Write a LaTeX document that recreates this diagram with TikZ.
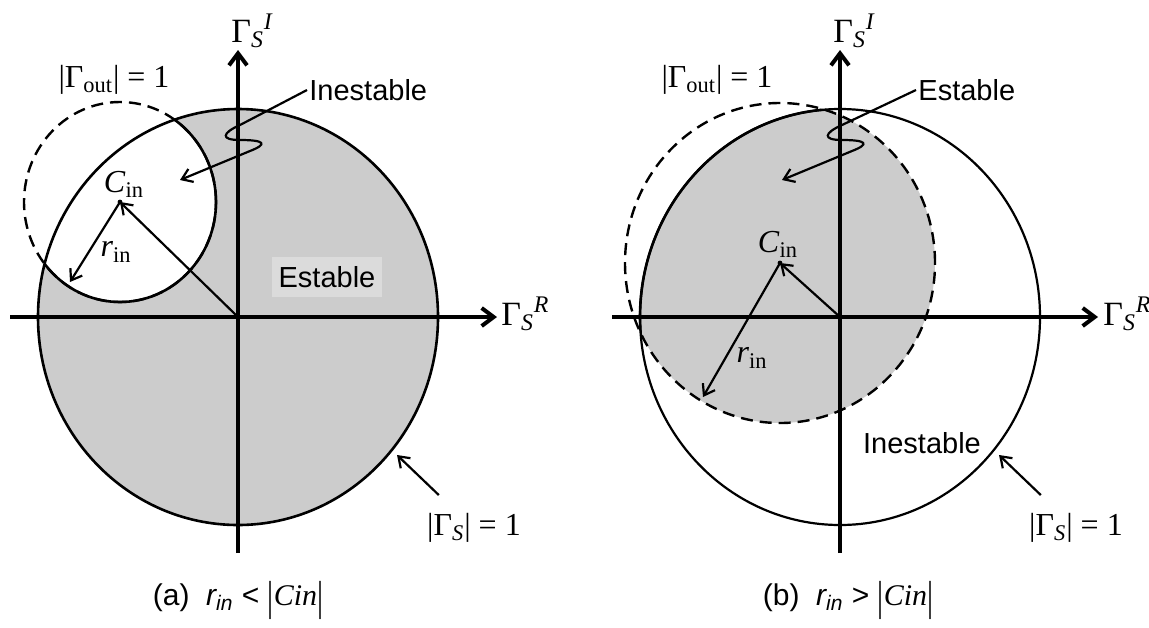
\documentclass[tikz,border=0pt]{standalone}
\usepackage{fontspec}
\setmainfont{Liberation Sans}
\newfontfamily\timesfont{Liberation Serif}
\usetikzlibrary{arrows.meta}
\definecolor{regiongray}{gray}{0.80}
\definecolor{boxgray}{gray}{0.86}
\newcommand{\tallbar}{\raisebox{-2.5pt}{\scalebox{1}[1.4]{|}}}

\begin{document}
\begin{tikzpicture}[x=0.5pt, y=-0.5pt,
    axis/.style={line width=2pt, -{Straight Barb[length=6pt,width=9pt]}},
    unit/.style={line width=1.3pt},
    stab/.style={line width=1.2pt, dash pattern=on 6pt off 3.5pt},
    pointer/.style={line width=1.1pt, -{Straight Barb[length=5pt,width=7pt]}},
    word/.style={font=\fontsize{14.5}{16}\selectfont, inner sep=1pt},
    sym/.style={font=\fontsize{16}{18}\selectfont\timesfont, inner sep=1pt},
    axlabel/.style={font=\fontsize{17}{19}\selectfont\timesfont, inner sep=0pt, anchor=base west},
    caption/.style={font=\fontsize{15}{17}\selectfont, inner sep=1pt}]
\useasboundingbox (0,0) rectangle (1149,627);

% (a) r_in < |Cin|
\coordinate (Oa) at (238,317);
\coordinate (Ca) at (120,202);
\fill[regiongray] (Oa) ellipse [x radius=100pt, y radius=104pt];
\begin{scope}
  \clip (Oa) ellipse [x radius=100pt, y radius=104pt];
  \fill[white] (Ca) ellipse [x radius=48pt, y radius=50pt];
  \draw[unit] (Ca) ellipse [x radius=48pt, y radius=50pt];
\end{scope}
\draw[stab] (Ca) ellipse [x radius=48pt, y radius=50pt];
\draw[unit] (Oa) ellipse [x radius=100pt, y radius=104pt];
\node[word, fill=boxgray, minimum width=55pt, minimum height=20pt] (estA) at (327,277) {Estable};

\draw[axis] (10,317) -- (497,317);
\draw[axis] (238,553) -- (238,50);
\node[axlabel] (gRa) at (501,325) {Γ\textsubscript{\textit{S}}\textsuperscript{\textit{R}}};
\node[axlabel] (gIa) at (231,42) {Γ\textsubscript{\textit{S}}\textsuperscript{\textit{I}}};

\draw[pointer] (Oa) -- (Ca);
\draw[pointer] (Ca) -- (70,282);
\fill (Ca) circle (1.2pt);
\node[sym] (cinA) at (124,184) {\textit{C}\textsubscript{in}};
\node[sym] (rinA) at (116,252) {\textit{r}\textsubscript{in}};
\node[sym] (goutA) at (114,80) {|Γ\textsubscript{out}| = 1};

\node[word, anchor=west] (instA) at (307,90) {Inestable};
\draw[pointer] (instA.west) -- (240,125) .. controls (222,133) and (220,140) .. (240,140)
    .. controls (265,140) and (268,144) .. (250,151) -- (180,180);

\node[sym] (gsA) at (474,528) {|Γ\textsubscript{\textit{S}}| = 1};
\draw[pointer] ([xshift=7pt,yshift=8pt]gsA.north west) -- (397,455);

\node[caption] (capA) at (238,600) {(a)\ \ \textit{r\textsubscript{in}} < {\timesfont\tallbar\textit{Cin}\tallbar}};

% (b) r_in > |Cin|
\coordinate (Ob) at (840,317);
\coordinate (Cb) at (780,263);
\begin{scope}
  \clip (Ob) ellipse [x radius=100pt, y radius=104pt];
  \fill[regiongray] (Cb) ellipse [x radius=77.5pt, y radius=80pt];
\end{scope}
\draw[line width=1.1pt] (Ob) ellipse [x radius=100pt, y radius=104pt];
\begin{scope}
  \clip (Cb) ellipse [x radius=77.5pt, y radius=80pt];
  \draw[unit] (Ob) ellipse [x radius=100pt, y radius=104pt];
\end{scope}
\draw[stab] (Cb) ellipse [x radius=77.5pt, y radius=80pt];

\draw[axis] (612,317) -- (1098,317);
\draw[axis] (840,553) -- (840,50);
\node[axlabel] (gRb) at (1103,325) {Γ\textsubscript{\textit{S}}\textsuperscript{\textit{R}}};
\node[axlabel] (gIb) at (833,42) {Γ\textsubscript{\textit{S}}\textsuperscript{\textit{I}}};

\draw[pointer] (Ob) -- (Cb);
\draw[pointer] (Cb) -- (703,397);
\fill (Cb) circle (1.2pt);
\node[sym] (cinB) at (778,244) {\textit{C}\textsubscript{in}};
\node[sym] (rinB) at (752,358) {\textit{r}\textsubscript{in}};
\node[sym] (goutB) at (717,80) {|Γ\textsubscript{out}| = 1};

\node[word, anchor=west] (estB) at (916,90) {Estable};
\draw[pointer] (estB.west) -- (842,125) .. controls (824,133) and (822,140) .. (842,140)
    .. controls (867,140) and (870,144) .. (852,151) -- (782,180);

\node[word] (instB) at (922,443) {Inestable};
\node[sym] (gsB) at (1076,528) {|Γ\textsubscript{\textit{S}}| = 1};
\draw[pointer] ([xshift=7pt,yshift=8pt]gsB.north west) -- (999,455);

\node[caption] (capB) at (848,600) {(b)\ \ \textit{r\textsubscript{in}} > {\timesfont\tallbar\textit{Cin}\tallbar}};
\end{tikzpicture}
\end{document}
